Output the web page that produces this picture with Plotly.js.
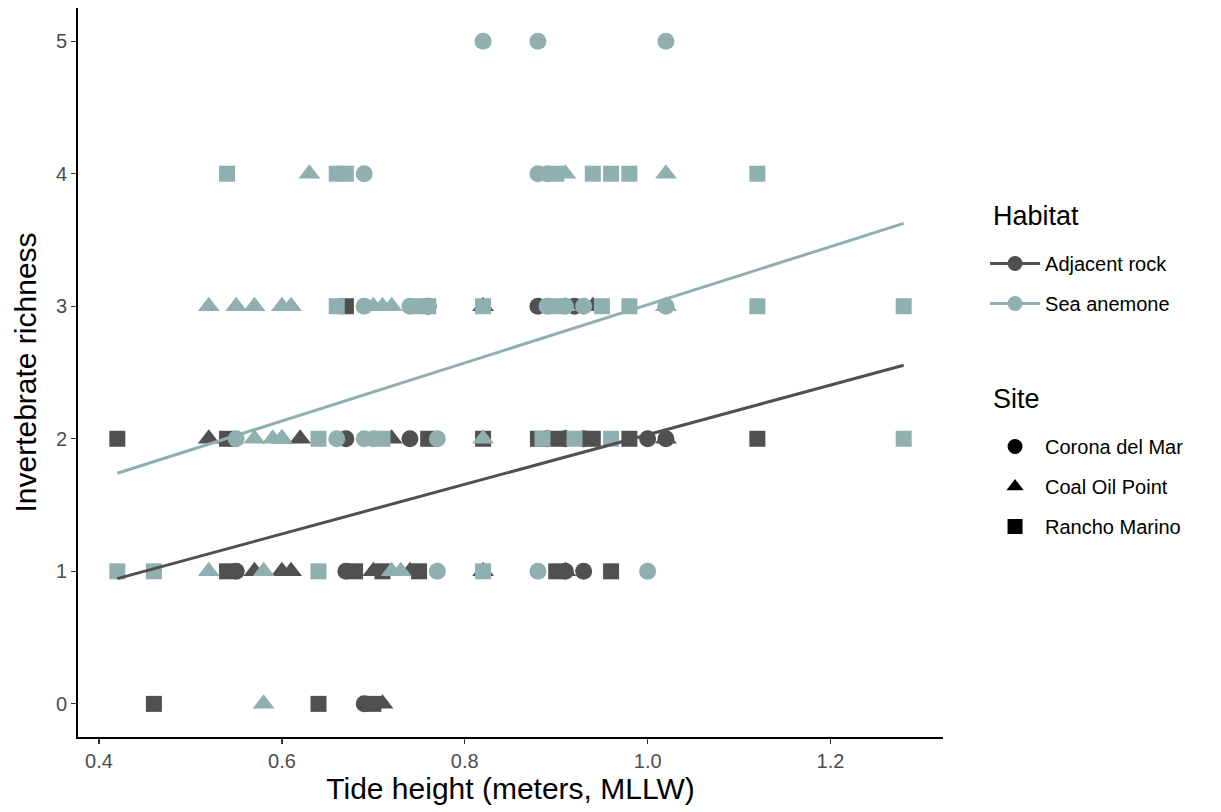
<!DOCTYPE html>
<html>
<head>
<meta charset="utf-8">
<script src="https://cdn.plot.ly/plotly-3.0.1.min.js"></script>
<style>html,body{margin:0;padding:0;background:#fff;}#chart{width:1221px;height:812px;}</style>
</head>
<body>
<div id="chart"></div>
<script>
// Adjacent rock observations
const adjX =    [0.46,0.64,0.69,0.70,0.71,
                 0.54,0.55,0.57,0.60,0.61,0.67,0.68,0.70,0.71,0.74,0.75,0.82,0.90,0.91,0.91,0.93,0.96,
                 0.42,0.52,0.54,0.60,0.62,0.67,0.72,0.74,0.76,0.82,0.88,0.89,0.90,0.91,0.91,0.93,0.94,0.98,1.00,1.02,1.02,1.12,
                 0.67,0.76,0.82,0.88,0.92,0.94];
const adjY =    [0,0,0,0,0,
                 1,1,1,1,1,1,1,1,1,1,1,1,1,1,1,1,1,
                 2,2,2,2,2,2,2,2,2,2,2,2,2,2,2,2,2,2,2,2,2,2,
                 3,3,3,3,3,3];
const adjSite = ["R","R","C","R","P",
                 "R","C","P","P","P","C","R","P","R","P","R","P","R","P","C","C","R",
                 "R","P","R","P","P","C","P","C","R","R","R","C","R","P","C","C","R","R","C","C","P","R",
                 "R","C","P","C","C","P"];
// Sea anemone observations
const anemX =   [0.58,
                 0.42,0.46,0.52,0.58,0.64,0.72,0.73,0.77,0.82,0.88,1.00,
                 0.55,0.57,0.59,0.60,0.64,0.66,0.69,0.70,0.71,0.77,0.82,0.885,0.92,0.96,1.28,
                 0.52,0.55,0.57,0.60,0.61,0.66,0.69,0.70,0.71,0.72,0.74,0.75,0.76,0.82,0.89,0.90,0.91,0.91,0.93,0.95,0.98,1.02,1.02,1.12,1.28,
                 0.54,0.63,0.66,0.67,0.69,0.88,0.89,0.90,0.91,0.94,0.96,0.98,1.02,1.12,
                 0.82,0.88,1.02];
const anemY =   [0,
                 1,1,1,1,1,1,1,1,1,1,1,
                 2,2,2,2,2,2,2,2,2,2,2,2,2,2,2,
                 3,3,3,3,3,3,3,3,3,3,3,3,3,3,3,3,3,3,3,3,3,3,3,3,3,
                 4,4,4,4,4,4,4,4,4,4,4,4,4,4,
                 5,5,5];
const anemSite = ["P",
                 "R","R","P","P","R","P","P","C","R","C","C",
                 "C","P","P","P","R","C","C","C","R","C","P","R","R","R","R",
                 "P","P","P","P","P","R","C","P","P","P","C","R","R","R","C","R","C","P","C","R","R","P","C","R","R",
                 "R","P","R","R","C","C","C","R","P","R","R","R","P","R",
                 "C","C","C"];
// Fitted lines
const fitX = [0.42, 1.28];
const fitAdj = [0.945, 2.555];
const fitAnem = [1.74, 3.625];

const habitats = ["Adjacent rock", "Sea anemone"];
const sites = ["Corona del Mar", "Coal Oil Point", "Rancho Marino"];
const siteCodes = ["C", "P", "R"];

const DARK = "#505050", TEAL = "#8FB0AE";
const symMap = {C: "circle", P: "triangle-up", R: "square"};
const sizeMap = {C: 17, P: 19, R: 16};

function pts(x, y, s, color) {
  return {
    x: x, y: y, type: "scatter", mode: "markers", showlegend: false, hoverinfo: "skip",
    marker: {color: color, opacity: 1, symbol: s.map(c => symMap[c]), size: s.map(c => sizeMap[c]), line: {width: 0}}
  };
}
function fit(y, color) {
  return {x: fitX, y: y, type: "scatter", mode: "lines", showlegend: false, hoverinfo: "skip",
          line: {color: color, width: 3}};
}
const traces = [
  pts(adjX, adjY, adjSite, DARK),
  pts(anemX, anemY, anemSite, TEAL),
  fit(fitAdj, DARK),
  fit(fitAnem, TEAL),
  {x: [null], y: [null], type: "scatter", mode: "lines+markers", name: habitats[0], legend: "legend", legendgroup: "h1",
   marker: {color: DARK, size: 15, symbol: "circle"}, line: {color: DARK, width: 3}},
  {x: [null], y: [null], type: "scatter", mode: "lines+markers", name: habitats[1], legend: "legend", legendgroup: "h2",
   marker: {color: TEAL, size: 15, symbol: "circle"}, line: {color: TEAL, width: 3}},
];
sites.forEach((s, i) => {
  traces.push({x: [null], y: [null], type: "scatter", mode: "markers", name: s, legend: "legend2", legendgroup: "s" + i,
    marker: {color: "#000", size: 15, symbol: symMap[siteCodes[i]]}});
});

const FONT = "Liberation Sans, Arial, Helvetica, sans-serif";
const legendCommon = {
  xanchor: "left", yanchor: "top", itemwidth: 50,
  font: {size: 20, family: FONT, color: "#000"}, tracegroupgap: 11, bgcolor: "rgba(0,0,0,0)"
};
const layout = {
  width: 1221, height: 812,
  margin: {l: 78, r: 278, t: 8, b: 75},
  paper_bgcolor: "#fff", plot_bgcolor: "#fff",
  font: {family: FONT, color: "#000"},
  xaxis: {
    range: [0.377, 1.323], tickvals: [0.4, 0.6, 0.8, 1.0, 1.2], ticktext: ["0.4", "0.6", "0.8", "1.0", "1.2"],
    showgrid: false, zeroline: false, showline: true, linecolor: "#000", linewidth: 2,
    ticks: "outside", ticklen: 5, tickwidth: 1.2, tickcolor: "#333",
    tickfont: {size: 20, color: "#4D4D4D", family: FONT},
    title: {text: "Tide height (meters, MLLW)", font: {size: 30, color: "#000", family: FONT}, standoff: 6}
  },
  yaxis: {
    range: [-0.25, 5.25], tickvals: [0, 1, 2, 3, 4, 5],
    showgrid: false, zeroline: false, showline: true, linecolor: "#000", linewidth: 2,
    ticks: "outside", ticklen: 5, tickwidth: 1.2, tickcolor: "#333",
    tickfont: {size: 20, color: "#4D4D4D", family: FONT},
    title: {text: "Invertebrate richness", font: {size: 30, color: "#000", family: FONT}, standoff: 10}
  },
  legend: Object.assign({x: 1.0486, y: 0.6763}, legendCommon),
  legend2: Object.assign({x: 1.0486, y: 0.4252}, legendCommon),
  annotations: [
    {text: "Habitat", xref: "paper", yref: "paper", x: 1.0555, y: 0.7147, xanchor: "left", yanchor: "middle",
     showarrow: false, font: {size: 27, family: FONT, color: "#000"}},
    {text: "Site", xref: "paper", yref: "paper", x: 1.0555, y: 0.4637, xanchor: "left", yanchor: "middle",
     showarrow: false, font: {size: 27, family: FONT, color: "#000"}}
  ]
};
Plotly.newPlot("chart", traces, layout, {staticPlot: true, displayModeBar: false});
</script>
</body>
</html>
